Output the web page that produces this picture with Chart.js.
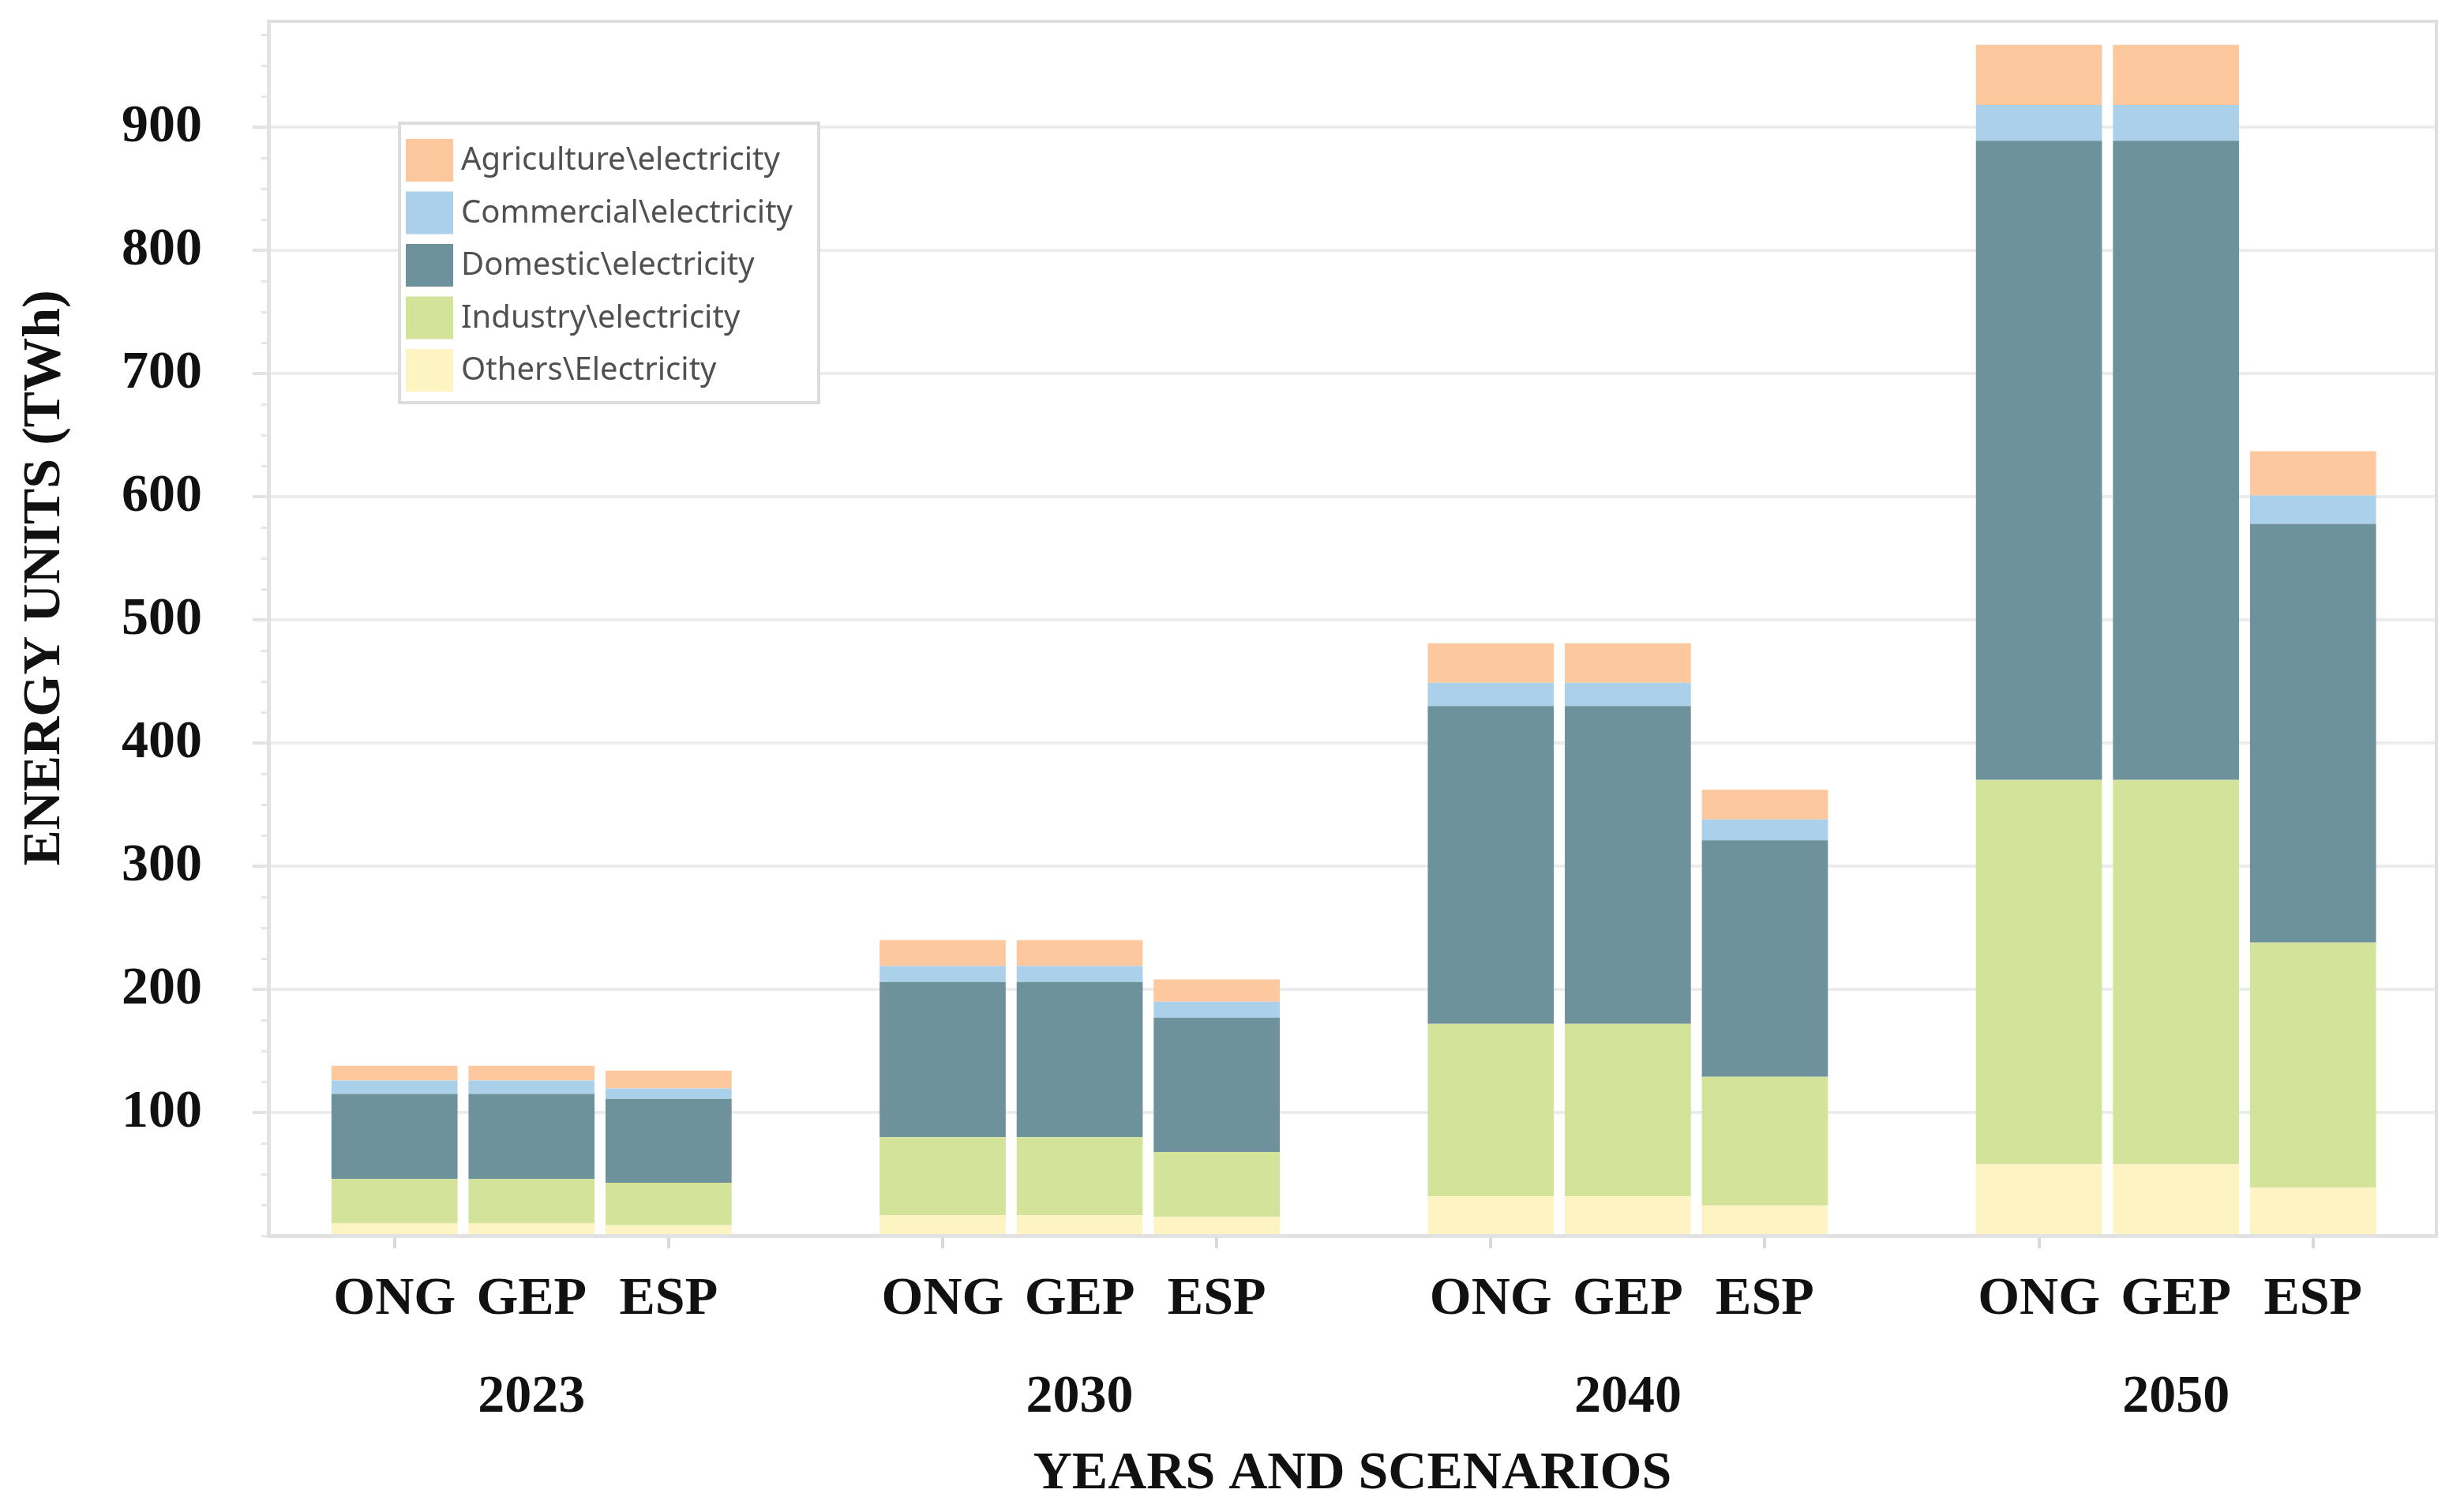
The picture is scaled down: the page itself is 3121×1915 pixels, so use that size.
<!DOCTYPE html>
<html><head><meta charset="utf-8">
<script src="https://cdn.jsdelivr.net/npm/chart.js@4.4.1/dist/chart.umd.min.js"></script>
<style>html,body{margin:0;padding:0;background:#fff;}canvas{display:block;}</style>
</head><body>
<canvas id="c" width="3121" height="1915" style="width:3121px;height:1915px"></canvas>
<script>
// ---- data ----
const years = ['2023', '2030', '2040', '2050'];
const scenarios = ['ONG', 'GEP', 'ESP'];
// bar order: 2023 ONG, GEP, ESP | 2030 ONG, GEP, ESP | 2040 ... | 2050 ...
const others      = [10, 10, 8.5, 16.5, 16.5, 15, 32, 32, 24.5, 58, 58, 39];
const industry    = [36, 36, 34.5, 63.5, 63.5, 53, 140, 140, 104.5, 312, 312, 199];
const domestic    = [69, 69, 68, 126, 126, 109, 258, 258, 192, 519, 519, 340];
const commercial  = [11, 11, 8.5, 13, 13, 13, 19, 19, 17, 29, 29, 23];
const agriculture = [12, 12, 14.5, 21, 21, 18, 32, 32, 24, 49, 49, 36];
const yTickLabels = [100, 200, 300, 400, 500, 600, 700, 800, 900];
const yMax = 986;

// ---- build ----
const slotsPerYear = scenarios.length + 1; // one empty slot between year groups
const barIndex = [];
years.forEach((y, yi) => scenarios.forEach((s, si) => barIndex.push(yi * slotsPerYear + si)));
const lastIndex = barIndex[barIndex.length - 1];
const allSlots = Array.from({length: lastIndex + 1}, (_, i) => i);
function slotLabel(v) {
  const si = v % slotsPerYear;
  return si < scenarios.length ? scenarios[si] : '';
}
const series = [
  {label: 'Others\\Electricity', values: others, color: '#FEF4C3'},
  {label: 'Industry\\electricity', values: industry, color: '#D3E39A'},
  {label: 'Domestic\\electricity', values: domestic, color: '#6E929B'},
  {label: 'Commercial\\electricity', values: commercial, color: '#ABD0E9'},
  {label: 'Agriculture\\electricity', values: agriculture, color: '#FEC89E'}
];
const datasets = series.map(s => ({
  label: s.label,
  data: s.values.map((v, i) => ({x: barIndex[i], y: v})),
  backgroundColor: s.color,
  borderWidth: 0,
  barPercentage: 0.92,
  categoryPercentage: 1.0
}));

const serifBold = {family: '"Liberation Serif", "Times New Roman", serif', weight: 'bold', size: 68};
const minorYTicks = [];
for (let v = 0; v < yMax; v += 25) minorYTicks.push(v);

const decor = {
  id: 'decor',
  beforeDraw(chart) {
    const c = chart.ctx;
    c.save(); c.fillStyle = '#fff'; c.fillRect(0, 0, chart.width, chart.height); c.restore();
  },
  afterDraw(chart) {
    const c = chart.ctx, a = chart.chartArea, xs = chart.scales.x;
    c.save();
    // frame top/right
    c.strokeStyle = '#dedede'; c.lineWidth = 4;
    c.beginPath();
    c.moveTo(a.left, a.top); c.lineTo(a.right, a.top); c.lineTo(a.right, a.bottom);
    c.stroke();
    // year labels under the middle scenario
    c.font = 'bold 68px "Liberation Serif", serif';
    c.fillStyle = '#111'; c.textAlign = 'center'; c.textBaseline = 'middle';
    years.forEach((y, yi) => {
      const px = xs.getPixelForValue(yi * slotsPerYear + 1);
      c.fillText(y, px, 1770);
    });
    // y title
    c.save();
    c.translate(57, 732); c.rotate(-Math.PI / 2);
    c.fillText('ENERGY UNITS (TWh)', 0, 0);
    c.restore();
    // legend
    const lx = a.left + 166, ly = a.top + 129, lw = 531, lh = 354;
    c.fillStyle = '#fff'; c.fillRect(lx, ly, lw, lh);
    c.strokeStyle = '#dcdcdc'; c.lineWidth = 4; c.strokeRect(lx, ly, lw, lh);
    c.font = '40px "Noto Sans", "Open Sans", sans-serif';
    c.textAlign = 'left'; c.textBaseline = 'middle';
    const items = chart.data.datasets.slice().reverse();
    items.forEach((ds, i) => {
      const sy = ly + 20 + i * 66.5;
      c.fillStyle = ds.backgroundColor;
      c.fillRect(lx + 8, sy, 60, 54);
      c.fillStyle = '#505050';
      c.fillText(ds.label, lx + 78, sy + 28);
    });
    c.restore();
  }
};

new Chart(document.getElementById('c'), {
  type: 'bar',
  data: {datasets},
  options: {
    responsive: false,
    devicePixelRatio: 1,
    animation: false,
    layout: {padding: {top: 27, right: 35, bottom: 0, left: 0}},
    plugins: {legend: {display: false}, tooltip: {enabled: false}},
    scales: {
      x: {
        type: 'linear', stacked: true, offset: false,
        min: -0.92, max: lastIndex + 0.9,
        afterBuildTicks: s => { s.ticks = allSlots.map(v => ({value: v})); },
        afterFit: s => { s.height = 350; s.paddingLeft = 0; s.paddingRight = 0; },
        ticks: {autoSkip: false, maxRotation: 0, minRotation: 0, padding: 25,
          callback: v => slotLabel(v), font: serifBold, color: '#111'},
        grid: {offset: false, drawOnChartArea: false, tickLength: 16, lineWidth: 4,
          tickColor: ctx => (ctx.tick && ctx.tick.value % 2 === 0) ? '#d9d9d9' : 'rgba(0,0,0,0)'},
        border: {color: '#e2e2e2', width: 5},
        title: {display: true, text: 'YEARS AND SCENARIOS', font: serifBold, color: '#111',
          padding: {top: 0, bottom: 7}}
      },
      y: {
        stacked: true, min: 0, max: yMax, weight: 1,
        afterBuildTicks: s => { s.ticks = [0].concat(yTickLabels).map(v => ({value: v})); },
        afterFit: s => { s.width = 340; s.paddingTop = 0; s.paddingBottom = 0; },
        ticks: {autoSkip: false, padding: 64, font: serifBold, color: '#111',
          callback: v => yTickLabels.includes(v) ? String(v) : ''},
        grid: {lineWidth: 4, tickLength: 20,
          color: ctx => (ctx.tick && ctx.tick.value > 0) ? '#ececec' : 'rgba(0,0,0,0)',
          tickColor: ctx => (ctx.tick && ctx.tick.value > 0) ? '#e2e2e2' : 'rgba(0,0,0,0)'},
        border: {color: '#e2e2e2', width: 5}
      },
      yMinor: {
        axis: 'y', position: 'left', min: 0, max: yMax, weight: 0,
        afterBuildTicks: s => { s.ticks = minorYTicks.map(v => ({value: v})); },
        afterFit: s => { s.width = 0; s.paddingTop = 0; s.paddingBottom = 0; },
        ticks: {display: false},
        grid: {drawOnChartArea: false, tickLength: 9, lineWidth: 3, tickColor: '#e6e6e6'},
        border: {display: false}
      }
    }
  },
  plugins: [decor]
});
</script>
</body></html>
